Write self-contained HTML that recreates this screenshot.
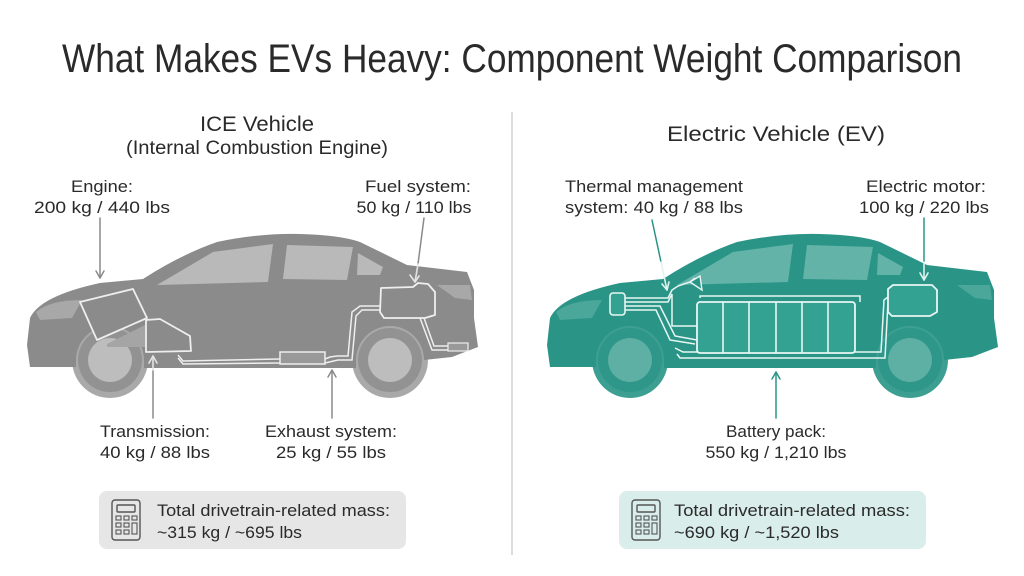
<!DOCTYPE html>
<html><head><meta charset="utf-8"><style>
html,body{margin:0;padding:0;background:#fff;}
svg{display:block;}
text{font-family:"Liberation Sans Narrow","Liberation Sans",sans-serif;fill:#2a2a2a;}
</style></head><body>
<svg width="1024" height="576" viewBox="0 0 1024 576" xmlns="http://www.w3.org/2000/svg">
<defs>
<g id="body">
<path d="M30,367 L27,345 L30,318 Q40,296 100,283 L143,279 Q180,255 217,242 Q260,233 300,234 Q340,235 360,242 L407,265 L467,272 L474,290 L474,318 L478,347 L452,357 L424,360 A34,34 0 0 0 356,360 L356,368 L144,368 L144,360 A34,34 0 0 0 76,360 L76,367 Z"/>
</g>
</defs>

<text x="512" y="72" font-size="40" text-anchor="middle" textLength="900" lengthAdjust="spacingAndGlyphs" fill="#1a1a1a">What Makes EVs Heavy: Component Weight Comparison</text>
<line x1="512" y1="112" x2="512" y2="555" stroke="#dcdcdc" stroke-width="2"/>

<text x="257" y="131" font-size="21" text-anchor="middle" textLength="114" lengthAdjust="spacingAndGlyphs">ICE Vehicle</text>
<text x="257" y="154" font-size="19" text-anchor="middle" textLength="262" lengthAdjust="spacingAndGlyphs">(Internal Combustion Engine)</text>
<text x="776" y="141" font-size="21" text-anchor="middle" textLength="218" lengthAdjust="spacingAndGlyphs">Electric Vehicle (EV)</text>

<text x="102" y="192" font-size="17" text-anchor="middle" textLength="62" lengthAdjust="spacingAndGlyphs">Engine:</text>
<text x="102" y="213" font-size="17" text-anchor="middle" textLength="136" lengthAdjust="spacingAndGlyphs">200 kg / 440 lbs</text>
<text x="418" y="192" font-size="17" text-anchor="middle" textLength="106" lengthAdjust="spacingAndGlyphs">Fuel system:</text>
<text x="414" y="213" font-size="17" text-anchor="middle" textLength="115" lengthAdjust="spacingAndGlyphs">50 kg / 110 lbs</text>
<text x="155" y="437" font-size="17" text-anchor="middle" textLength="110" lengthAdjust="spacingAndGlyphs">Transmission:</text>
<text x="155" y="458" font-size="17" text-anchor="middle" textLength="110" lengthAdjust="spacingAndGlyphs">40 kg / 88 lbs</text>
<text x="331" y="437" font-size="17" text-anchor="middle" textLength="132" lengthAdjust="spacingAndGlyphs">Exhaust system:</text>
<text x="331" y="458" font-size="17" text-anchor="middle" textLength="110" lengthAdjust="spacingAndGlyphs">25 kg / 55 lbs</text>

<text x="654" y="192" font-size="17" text-anchor="middle" textLength="178" lengthAdjust="spacingAndGlyphs">Thermal management</text>
<text x="654" y="213" font-size="17" text-anchor="middle" textLength="178" lengthAdjust="spacingAndGlyphs">system: 40 kg / 88 lbs</text>
<text x="926" y="192" font-size="17" text-anchor="middle" textLength="120" lengthAdjust="spacingAndGlyphs">Electric motor:</text>
<text x="924" y="213" font-size="17" text-anchor="middle" textLength="130" lengthAdjust="spacingAndGlyphs">100 kg / 220 lbs</text>
<text x="776" y="437" font-size="17" text-anchor="middle" textLength="100" lengthAdjust="spacingAndGlyphs">Battery pack:</text>
<text x="776" y="458" font-size="17" text-anchor="middle" textLength="141" lengthAdjust="spacingAndGlyphs">550 kg / 1,210 lbs</text>

<!-- ICE car -->
<g>
<circle cx="110" cy="360" r="38" fill="#a9a9a9"/>
<circle cx="390" cy="360" r="38" fill="#a9a9a9"/>
<use href="#body" fill="#8b8b8b"/>
<circle cx="110" cy="360" r="32" fill="#929292"/><circle cx="110" cy="360" r="22" fill="#bdbdbd"/>
<circle cx="390" cy="360" r="32" fill="#929292"/><circle cx="390" cy="360" r="22" fill="#bdbdbd"/>
<polygon points="157,285 213,252 273,244 268,282" fill="#b9b9b9"/>
<polygon points="287,245 353,247 347,280 283,279" fill="#b9b9b9"/>
<polygon points="358,253 383,267 380,275 357,275" fill="#b9b9b9"/>
<path d="M36,312 Q50,300 82,300 L72,318 L40,320 Z" fill="#a8a8a8"/>
<path d="M437,285 L470,285 L472,300 L455,298 Z" fill="#a8a8a8"/>
<g fill="none" stroke="#eee" stroke-width="1.5">
<path d="M178,355 L183,361 L280,359 M325,359 L330,357 L337,356 L348,356 L352,312 L360,306 L380,306"/>
<path d="M178,358 L183,364 L280,363 M325,363 L338,360 L352,360 L356,316 L362,310 L380,310"/>
<path d="M420,318 L432,350 L448,350 M424,318 L434,346 L448,346"/>
</g>
<polygon points="80,302 133,289 147,318 97,340" fill="#8b8b8b" stroke="#eee" stroke-width="1.8" stroke-linejoin="round"/>
<polygon points="107,344 145,325 146,347 107,347" fill="#a5a5a5"/>
<path d="M146,320 L160,319 L190,336 L191,351 L146,352 Z" fill="#8b8b8b" stroke="#eee" stroke-width="1.8" stroke-linejoin="round"/>
<rect x="280" y="352" width="45" height="12" fill="#999" stroke="#eee" stroke-width="1.5"/>
<rect x="448" y="343" width="20" height="8" fill="#999" stroke="#eee" stroke-width="1.2"/>
<path d="M381,288 L413,287 L418,283 L428,284 L435,292 L435,315 L425,318 L384,318 L380,312 Z" fill="#8b8b8b" stroke="#eee" stroke-width="1.8" stroke-linejoin="round"/>
</g>

<!-- EV car -->
<g transform="translate(520,0)">
<circle cx="110" cy="360" r="38" fill="#3d9f92"/>
<circle cx="390" cy="360" r="38" fill="#3d9f92"/>
<use href="#body" fill="#2a9587"/>
<circle cx="110" cy="360" r="32" fill="#2e978a"/><circle cx="110" cy="360" r="22" fill="#5eb0a4"/>
<circle cx="390" cy="360" r="32" fill="#2e978a"/><circle cx="390" cy="360" r="22" fill="#5eb0a4"/>
<polygon points="157,285 213,252 273,244 268,282" fill="#63b3a8"/>
<polygon points="287,245 353,247 347,280 283,279" fill="#63b3a8"/>
<polygon points="358,253 383,267 380,275 357,275" fill="#63b3a8"/>
<path d="M36,312 Q50,300 82,300 L72,318 L40,320 Z" fill="#4aa79a"/>
<path d="M437,285 L470,285 L472,300 L455,298 Z" fill="#4aa79a"/>
<g fill="none" stroke="#e8f6f3" stroke-width="1.5">
<path d="M105,298 L148,298 L152,290 L158,286 L170,282 L175,278 M105,302 L148,302 L152,294 M152,294 L152,326 L178,326"/>
<path d="M105,306 L140,306 L155,336 L177,340 M105,310 L136,310 L150,340 L175,344"/>
<path d="M157,354 L160,358 L365,358 L368,302 L372,298 L368,298 M155,348 L163,352 L361,352 L364,300 L368,297"/>
<path d="M180,298 L180,296 L340,296 L340,302"/>
</g>
<path d="M170,282 L180,276 L182,290 Z" fill="#2a9587" stroke="#e8f6f3" stroke-width="1.4"/>
<rect x="90" y="293" width="15" height="22" rx="3" fill="#33a293" stroke="#e8f6f3" stroke-width="1.6"/>
<rect x="177" y="302" width="158" height="51" rx="3" fill="#33a293" stroke="#e8f6f3" stroke-width="1.8"/>
<g stroke="#e8f6f3" stroke-width="1.6"><line x1="203" y1="302" x2="203" y2="353"/><line x1="229" y1="302" x2="229" y2="353"/><line x1="256" y1="302" x2="256" y2="353"/><line x1="282" y1="302" x2="282" y2="353"/><line x1="308" y1="302" x2="308" y2="353"/></g>
<path d="M368,289 L373,285 L412,285 L417,290 L417,312 L410,316 L372,316 L368,312 Z" fill="#33a293" stroke="#e8f6f3" stroke-width="1.8" stroke-linejoin="round"/>
</g>

<!-- arrows -->
<g stroke="#8a8a8a" stroke-width="1.5" fill="none" stroke-linecap="round" stroke-linejoin="round">
<line x1="100" y1="218" x2="100" y2="278"/><path d="M96,271 L100,278 L104,271"/>
<line x1="424" y1="218" x2="418" y2="264"/>
<line x1="153" y1="418" x2="153" y2="370"/>
<line x1="332" y1="418" x2="332" y2="370"/><path d="M328,377 L332,370 L336,377"/>
</g>
<g stroke="#e4e4e4" stroke-width="1.6" fill="none" stroke-linecap="round" stroke-linejoin="round">
<line x1="418" y1="264" x2="415" y2="282"/><path d="M410,275 L415,282 L419,276"/>
<line x1="153" y1="370" x2="153" y2="356"/><path d="M149,363 L153,356 L157,363"/>
</g>
<g stroke="#2a9587" stroke-width="1.5" fill="none" stroke-linecap="round" stroke-linejoin="round">
<line x1="652" y1="220" x2="661" y2="262"/>
<line x1="924" y1="218" x2="924" y2="262"/>
<line x1="776" y1="418" x2="776" y2="372"/><path d="M772,379 L776,372 L780,379"/>
</g>
<g stroke="#dff3ef" stroke-width="1.6" fill="none" stroke-linecap="round" stroke-linejoin="round">
<line x1="661" y1="262" x2="667" y2="290"/><path d="M662,284 L667,290 L669,282"/>
<line x1="924" y1="262" x2="924" y2="280"/><path d="M920,273 L924,280 L928,273"/>
</g>

<rect x="99" y="491" width="307" height="58" rx="8" fill="#e6e6e6"/>
<rect x="619" y="491" width="307" height="58" rx="8" fill="#d9eeea"/>
<g fill="none" stroke="#555" stroke-width="1.4">
<rect x="112" y="500" width="28" height="40" rx="3"/><rect x="117" y="505" width="18" height="7" rx="1"/>
<rect x="632" y="500" width="28" height="40" rx="3"/><rect x="637" y="505" width="18" height="7" rx="1"/>
</g>
<g fill="none" stroke="#555" stroke-width="1.1">
<rect x="116" y="516" width="5" height="4"/><rect x="124" y="516" width="5" height="4"/><rect x="132" y="516" width="5" height="4"/>
<rect x="116" y="523" width="5" height="4"/><rect x="124" y="523" width="5" height="4"/><rect x="132" y="523" width="5" height="11"/>
<rect x="116" y="530" width="5" height="4"/><rect x="124" y="530" width="5" height="4"/>
<rect x="636" y="516" width="5" height="4"/><rect x="644" y="516" width="5" height="4"/><rect x="652" y="516" width="5" height="4"/>
<rect x="636" y="523" width="5" height="4"/><rect x="644" y="523" width="5" height="4"/><rect x="652" y="523" width="5" height="11"/>
<rect x="636" y="530" width="5" height="4"/><rect x="644" y="530" width="5" height="4"/>
</g>
<text x="157" y="516" font-size="17" textLength="233" lengthAdjust="spacingAndGlyphs">Total drivetrain-related mass:</text>
<text x="157" y="538" font-size="17" textLength="145" lengthAdjust="spacingAndGlyphs">~315 kg / ~695 lbs</text>
<text x="674" y="516" font-size="17" textLength="236" lengthAdjust="spacingAndGlyphs">Total drivetrain-related mass:</text>
<text x="674" y="538" font-size="17" textLength="165" lengthAdjust="spacingAndGlyphs">~690 kg / ~1,520 lbs</text>
</svg>
</body></html>
